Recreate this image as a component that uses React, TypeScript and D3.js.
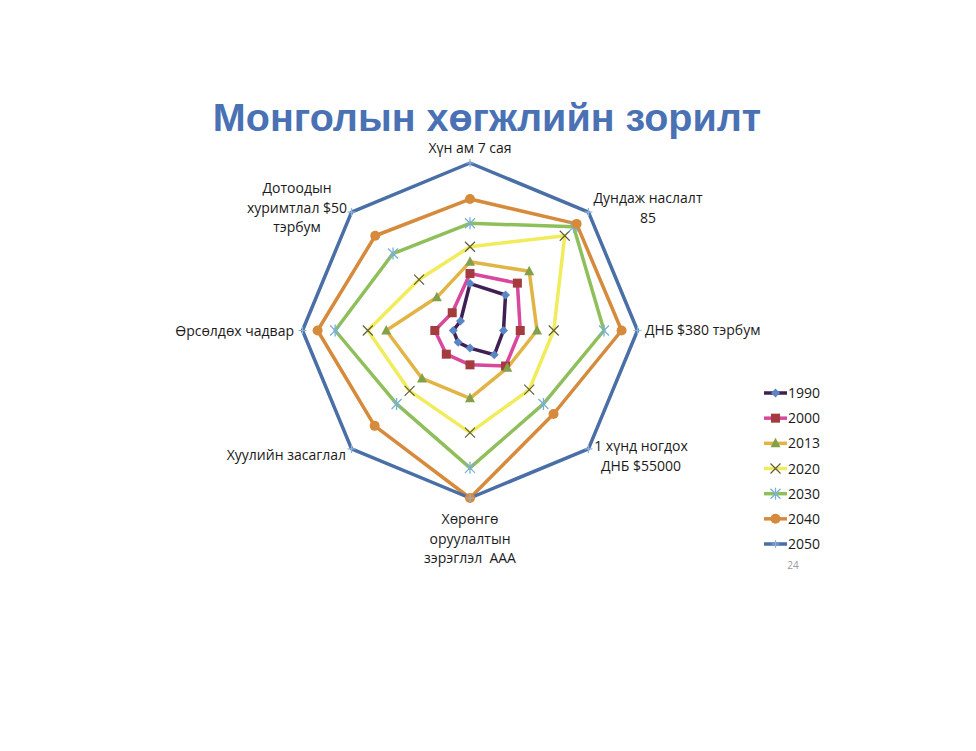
import * as d3 from 'd3'

const axes = [
  ['Хүн ам 7 сая'],
  ['Дундаж наслалт', '85'],
  ['ДНБ $380 тэрбум'],
  ['1 хүнд ногдох', 'ДНБ $55000'],
  ['Хөрөнгө', 'оруулалтын', 'зэрэглэл  ААА'],
  ['Хуулийн засаглал'],
  ['Өрсөлдөх чадвар'],
  ['Дотоодын', 'хуримтлал $50', 'тэрбум'],
]

const years = ['1990', '2000', '2013', '2020', '2030', '2040', '2050']

const v1990 = [2.8, 3, 2, 2.05, 1.05, 1, 1, 0.8]
const v2000 = [3.4, 4, 3, 3, 2.05, 2, 2.1, 1.5]
const v2013 = [4.1, 5, 4, 3.15, 4.05, 4.05, 5, 2.8]
const v2020 = [5, 8, 5, 5, 6.1, 5.1, 6.1, 4.3]
const v2030 = [6.4, 8.75, 8, 6.2, 8.2, 6.2, 8.05, 6.5]
const v2040 = [7.85, 9, 9.05, 7.05, 10, 8.05, 9.1, 8]
const v2050 = [10, 10, 10, 10, 10, 10, 10, 10]
const series = [v1990, v2000, v2013, v2020, v2030, v2040, v2050]

const lineColors = ['#3f1f55', '#d8489c', '#e2b445', '#f1ec5c', '#8fbf5b', '#d68a3c', '#4a6fa6']
const markColors = ['#5b86c4', '#a43b3e', '#84a04a', '#5a5a3a', '#7ab0d4', '#d68a3c', '#8fb4dc']

const W = 976
const H = 751
const cx = 470
const cy = 330.5
const R = 167.5
const labelFont = "'Open Sans', 'Noto Sans', sans-serif"

// label anchor positions [x, y of first baseline, anchor]
const labelPos: [number, number, string][] = [
  [470, 153, 'middle'],
  [648, 203, 'middle'],
  [645, 335, 'start'],
  [641, 451, 'middle'],
  [470, 524, 'middle'],
  [346, 460, 'end'],
  [294, 336, 'end'],
  [297, 193, 'middle'],
]

function Marker({ k, x, y }: { k: number; x: number; y: number }) {
  const c = markColors[k]
  if (k === 0) {
    return <path d={`M${x},${y - 4.5}L${x + 4.5},${y}L${x},${y + 4.5}L${x - 4.5},${y}Z`} fill={c} />
  }
  if (k === 1) return <rect x={x - 4.5} y={y - 4.5} width={9} height={9} fill={c} />
  if (k === 2) {
    return <path d={`M${x},${y - 5.5}L${x + 5},${y + 4}L${x - 5},${y + 4}Z`} fill={c} />
  }
  if (k === 3) {
    return (
      <path d={`M${x - 5},${y - 5}L${x + 5},${y + 5}M${x - 5},${y + 5}L${x + 5},${y - 5}`} stroke={c} strokeWidth={1.1} />
    )
  }
  if (k === 4) {
    return (
      <path
        d={`M${x - 5},${y - 5}L${x + 5},${y + 5}M${x - 5},${y + 5}L${x + 5},${y - 5}M${x},${y - 6}L${x},${y + 6}`}
        stroke={c}
        strokeWidth={1.3}
      />
    )
  }
  if (k === 5) return <circle cx={x} cy={y} r={5} fill={c} />
  return <path d={`M${x - 4},${y}L${x + 4},${y}M${x},${y - 4}L${x},${y + 4}`} stroke={c} strokeWidth={1.2} />
}

export default function App() {
  const r = d3.scaleLinear([0, 10], [0, R])
  const angle = d3.scaleLinear([0, axes.length], [0, 2 * Math.PI])
  const radial = d3
    .lineRadial<number>()
    .angle((_, i) => angle(i))
    .radius((d) => r(d))
    .curve(d3.curveLinearClosed)
  const pt = (v: number, i: number) => [cx + r(v) * Math.sin(angle(i)), cy - r(v) * Math.cos(angle(i))]
  const legendY = d3.scalePoint(years, [393, 544])

  return (
    <svg width={W} height={H} style={{ display: 'block', position: 'absolute', left: 0, top: 0 }}>
      <rect width={W} height={H} fill="#fff" />
      <text
        x={487}
        y={131}
        textAnchor="middle"
        fontFamily="'Liberation Sans', Arial, sans-serif"
        fontWeight="bold"
        fontSize={39.5}
        fill="#4a71b4"
      >
        Монголын хөгжлийн зорилт
      </text>
      <g transform={`translate(${cx},${cy})`}>
        {series.map((s, k) => (
          <path key={k} d={radial(s) || undefined} fill="none" stroke={lineColors[k]} strokeWidth={3.5} strokeLinejoin="round" />
        ))}
      </g>
      {series.map((s, k) => (
        <g key={k}>
          {s.map((v, i) => {
            const [x, y] = pt(v, i)
            return <Marker key={i} k={k} x={x} y={y} />
          })}
        </g>
      ))}
      {axes.map((lines, i) => (
        <text
          key={i}
          x={labelPos[i][0]}
          y={labelPos[i][1]}
          textAnchor={labelPos[i][2]}
          fontFamily={labelFont}
          fontSize={14}
          fill="#1a1a1a"
        >
          {lines.map((l, j) => (
            <tspan key={j} x={labelPos[i][0]} dy={j === 0 ? 0 : 19.5} style={{ whiteSpace: 'pre' }}>
              {l}
            </tspan>
          ))}
        </text>
      ))}
      {years.map((y, k) => {
        const ly = legendY(y) as number
        return (
          <g key={y}>
            <line x1={764} x2={787} y1={ly} y2={ly} stroke={lineColors[k]} strokeWidth={3.5} />
            <Marker k={k} x={775.5} y={ly} />
            <text x={788} y={ly + 5} fontFamily={labelFont} fontSize={14} fill="#1a1a1a">
              {y}
            </text>
          </g>
        )
      })}
      <text x={793} y={569} textAnchor="middle" fontFamily={labelFont} fontSize={10} fill="#9a9a9a">
        24
      </text>
    </svg>
  )
}
